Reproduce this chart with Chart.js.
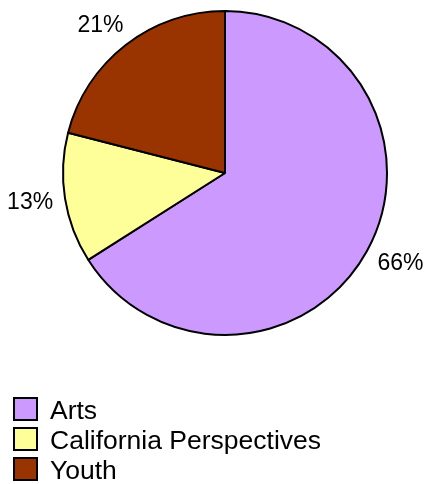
<!DOCTYPE html>
<html>
<head>
<meta charset="utf-8">
<script src="https://cdn.jsdelivr.net/npm/chart.js@4/dist/chart.umd.min.js"></script>
<style>
html,body{margin:0;padding:0;background:#fff;}
canvas{display:block;}
</style>
</head>
<body>
<canvas id="c" width="427" height="484"></canvas>
<script>
const categories = ["Arts", "California Perspectives", "Youth"];
const values = [66, 13, 21];
const colors = ["#CC99FF", "#FFFF99", "#993300"];

const LABEL_FONT = '23px "Liberation Sans", Arial, sans-serif';
const LEGEND_FONT = '26.5px "Liberation Sans", Arial, sans-serif';

const labelPlugin = {
  id: 'outLabels',
  afterDatasetsDraw(chart) {
    const ctx = chart.ctx;
    const meta = chart.getDatasetMeta(0);
    const data = chart.data.datasets[0].data;
    const total = data.reduce((a, b) => a + b, 0);
    ctx.save();
    ctx.font = LABEL_FONT;
    ctx.fillStyle = '#000';
    ctx.textAlign = 'center';
    ctx.textBaseline = 'middle';
    meta.data.forEach((arc, i) => {
      const p = arc.getProps(['x', 'y', 'startAngle', 'endAngle', 'outerRadius'], true);
      const mid = (p.startAngle + p.endAngle) / 2;
      const txt = Math.round(data[i] / total * 100) + '%';
      const w = ctx.measureText(txt).width;
      const h = 22;
      const dx = Math.cos(mid), dy = Math.sin(mid);
      const R = p.outerRadius + 12;
      const m = Math.max(Math.abs(dx), Math.abs(dy));
      const cx = p.x + dx * R + (w / 2) * dx / m;
      const cy = p.y + dy * R + (h / 2) * dy / m;
      ctx.fillText(txt, cx, cy + 1);
    });
    ctx.restore();
  },
  afterDraw(chart) {
    const ctx = chart.ctx;
    const labels = chart.data.labels;
    const bg = chart.data.datasets[0].backgroundColor;
    ctx.save();
    ctx.font = LEGEND_FONT;
    ctx.textAlign = 'left';
    ctx.textBaseline = 'alphabetic';
    labels.forEach((lab, i) => {
      const top = 398 + i * 30;
      ctx.fillStyle = bg[i];
      ctx.fillRect(14, top, 23, 22);
      ctx.lineWidth = 2;
      ctx.strokeStyle = '#000';
      ctx.strokeRect(14, top, 23, 22);
      ctx.fillStyle = '#000';
      ctx.fillText(lab, 50, top + 21);
    });
    ctx.restore();
  }
};

new Chart(document.getElementById('c'), {
  type: 'pie',
  data: {
    labels: categories,
    datasets: [{
      data: values,
      backgroundColor: colors,
      borderColor: '#000',
      borderWidth: 2,
      hoverOffset: 0,
      offset: 0
    }]
  },
  options: {
    responsive: false,
    animation: false,
    events: [],
    layout: { padding: { left: 62, right: 39, top: 10, bottom: 148 } },
    plugins: {
      legend: { display: false },
      tooltip: { enabled: false }
    }
  },
  plugins: [labelPlugin]
});
</script>
</body>
</html>
